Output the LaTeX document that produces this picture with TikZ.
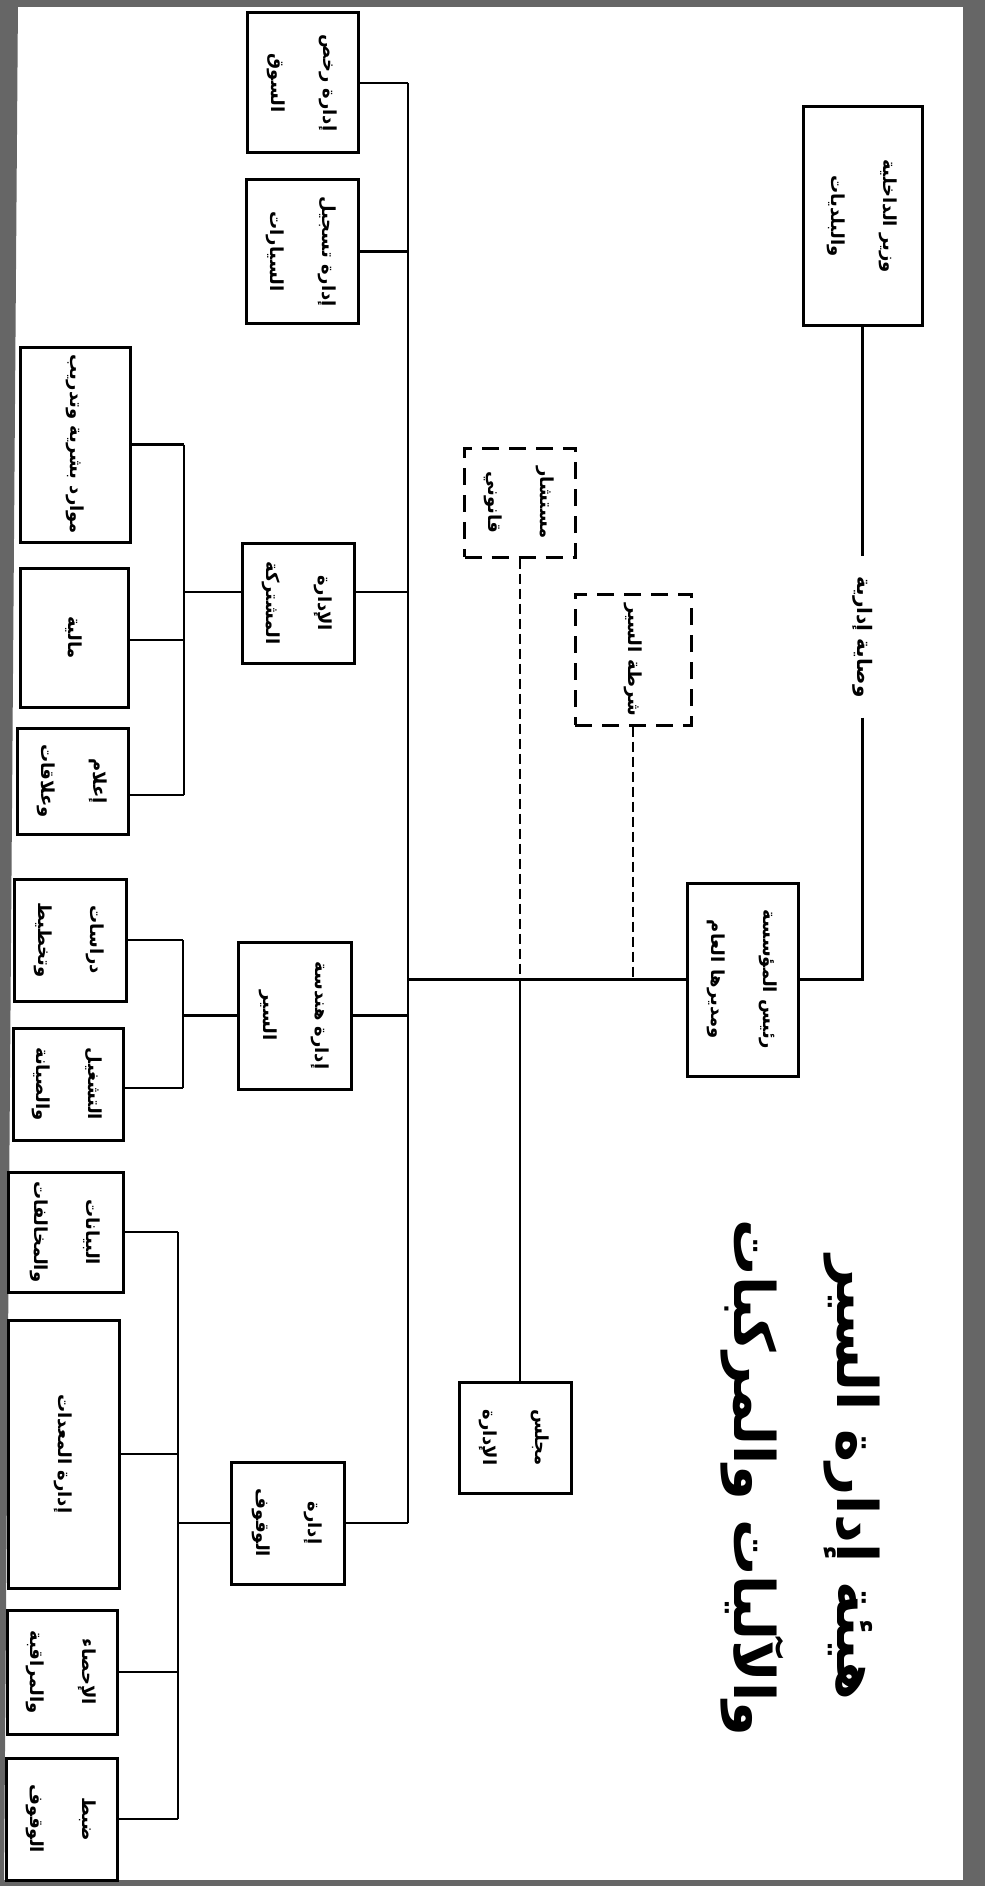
\documentclass[tikz,border=0pt]{standalone}
\usepackage{fontspec}
\usepackage{graphicx}
\newfontfamily\arfont[Script=Arabic]{DejaVu Sans}
\TeXXeTstate=1
\newlength{\lsep}
\setlength{\lsep}{26pt}
\newcommand{\AR}[1]{{\arfont\bfseries\beginR #1\endR}}
\newcommand{\txtone}[1]{\rotatebox{-90}{\AR{#1}}}
\newcommand{\txttwo}[2]{\rotatebox{-90}{\begin{tabular}{@{}c@{}}\AR{#1}\\[\lsep]\AR{#2}\end{tabular}}}
\begin{document}
\begin{tikzpicture}[x=1pt,y=-1pt,
  box/.style={draw, line width=3pt, fill=white, inner sep=0pt, font=\fontsize{18}{26}\selectfont},
  dbox/.style={box, dash pattern=on 17pt off 10pt},
  conn/.style={line width=2.6pt},
  dconn/.style={line width=2.6pt, dash pattern=on 10pt off 5pt},
  frame/.style={fill=black!60}
]
\useasboundingbox (0,0) rectangle (985,1886);
% scanned frame
\fill[frame] (0,0) -- (18,0) -- (4,1886) -- (0,1886) -- cycle;
\fill[frame] (0,0) rectangle (985,7);
\fill[frame] (963,0) rectangle (985,1886);
\fill[frame] (0,1880) rectangle (985,1886);

% title
\node[font=\fontsize{56}{70}\selectfont, inner sep=0pt] (title) at (800,1478)
  {\rotatebox{-90}{\begin{tabular}{@{}c@{}}\AR{هيئة إدارة السير}\\[33pt]\AR{والآليات والمركبات}\end{tabular}}};

% top level
\node[box, minimum width=119pt, minimum height=218pt] (min) at (862.5,216) {\txttwo{وزير الداخلية}{والبلديات}};
\node[box, minimum width=111pt, minimum height=193pt] (ceo) at (742.5,979.5) {\txttwo{رئيس المؤسسة}{ومديرها العام}};
\node[dbox, minimum width=111pt, minimum height=109pt] (adv) at (520,502.5) {\txttwo{مستشار}{قانوني}};
\node[dbox, minimum width=116pt, minimum height=131pt] (pol) at (633,659.5) {\txtone{شرطة السير}};
\node[box, minimum width=112pt, minimum height=111pt] (board) at (515,1437.5) {\txttwo{مجلس}{الإدارة}};
\node[inner xsep=2pt, inner ysep=20pt, font=\fontsize{20}{28}\selectfont] (lbl) at (862.5,637) {\txtone{وصاية إدارية}};

% departments
\node[box, minimum width=111pt, minimum height=140pt] (rs) at (302.5,83) {\txttwo{إدارة رخص}{السوق}};
\node[box, minimum width=112pt, minimum height=143pt] (ts) at (302,251.5) {\txttwo{إدارة تسجيل}{السيارات}};
\node[box, minimum width=112pt, minimum height=120pt] (joint) at (298,603) {\txttwo{الإدارة}{المشتركة}};
\node[box, minimum width=113pt, minimum height=147pt] (eng) at (294.5,1015.5) {\txttwo{إدارة هندسة}{السير}};
\node[box, minimum width=113pt, minimum height=122pt] (park) at (287.5,1523) {\txttwo{إدارة}{الوقوف}};

% sections
\node[box, minimum width=110pt, minimum height=195pt] (hr) at (75,444.5) {\txtone{موارد بشرية وتدريب}};
\node[box, minimum width=108pt, minimum height=139pt] (fin) at (74,637.5) {\txtone{مالية}};
\node[box, minimum width=111pt, minimum height=106pt] (med) at (72.5,781) {\txttwo{إعلام}{وعلاقات}};
\node[box, minimum width=112pt, minimum height=122pt] (stu) at (70,940) {\txttwo{دراسات}{وتخطيط}};
\node[box, minimum width=110pt, minimum height=112pt] (ops) at (68,1084) {\txttwo{التشغيل}{والصيانة}};
\node[box, minimum width=115pt, minimum height=120pt] (dat) at (65.5,1232) {\txttwo{البيانات}{والمخالفات}};
\node[box, minimum width=111pt, minimum height=268pt] (eqp) at (63.5,1454) {\txtone{إدارة المعدات}};
\node[box, minimum width=110pt, minimum height=124pt] (sta) at (62,1672) {\txttwo{الإحصاء}{والمراقبة}};
\node[box, minimum width=111pt, minimum height=122pt] (ctl) at (61.5,1819) {\txttwo{ضبط}{الوقوف}};

% helper coordinates
\coordinate (sp) at (408,0);
\coordinate (s1) at (184,0);
\coordinate (s2) at (183,0);
\coordinate (s3) at (178,0);
\coordinate (jointE) at ([yshift=11pt]joint.east);
\coordinate (jointW) at ([yshift=11pt]joint.west);
\coordinate (finE) at ([yshift=-2.5pt]fin.east);
\coordinate (medE) at ([yshift=-14pt]med.east);
\coordinate (opsE) at ([yshift=-4pt]ops.east);
\coordinate (jadv) at (adv.south |- ceo.west);
\coordinate (jpol) at (pol.south |- ceo.west);

% minister to director
\draw[conn] (min.south) -- (lbl.north);
\draw[conn] (lbl.south) |- (ceo.east);
% main line
\draw[conn] (ceo.west) -- (ceo.west -| sp);
\draw[dconn] (pol.south) -- (jpol);
\draw[dconn] (adv.south) -- (jadv);
\draw[conn] (jadv) -- (jadv |- board.north);
% spine
\draw[conn] (rs.east -| sp) -- (park.east -| sp);
\draw[conn] (rs.east) -- (rs.east -| sp);
\draw[conn] (ts.east) -- (ts.east -| sp);
\draw[conn] (jointE) -- (jointE -| sp);
\draw[conn] (eng.east) -- (eng.east -| sp);
\draw[conn] (park.east) -- (park.east -| sp);
% shared administration
\draw[conn] (jointW) -- (jointW -| s1);
\draw[conn] (hr.east -| s1) -- (medE -| s1);
\draw[conn] (hr.east) -- (hr.east -| s1);
\draw[conn] (finE) -- (finE -| s1);
\draw[conn] (medE) -- (medE -| s1);
% traffic engineering
\draw[conn] (eng.west) -- (eng.west -| s2);
\draw[conn] (stu.east -| s2) -- (opsE -| s2);
\draw[conn] (stu.east) -- (stu.east -| s2);
\draw[conn] (opsE) -- (opsE -| s2);
% parking
\draw[conn] (park.west) -- (park.west -| s3);
\draw[conn] (dat.east -| s3) -- (ctl.east -| s3);
\draw[conn] (dat.east) -- (dat.east -| s3);
\draw[conn] (eqp.east) -- (eqp.east -| s3);
\draw[conn] (sta.east) -- (sta.east -| s3);
\draw[conn] (ctl.east) -- (ctl.east -| s3);
\end{tikzpicture}
\end{document}
